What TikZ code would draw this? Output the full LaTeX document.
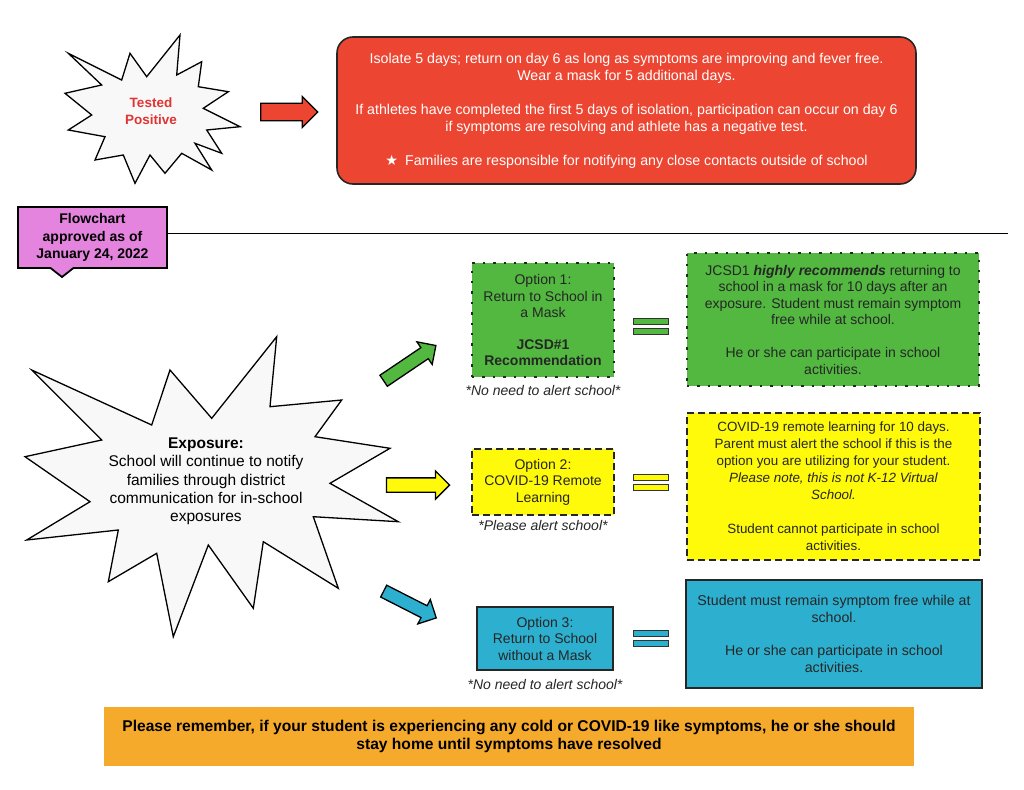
\documentclass[tikz,border=0pt]{standalone}
\usepackage{fontspec}
\setmainfont{Liberation Sans}
\newfontfamily\symbolfont{DejaVu Sans}
\usetikzlibrary{shapes.arrows,positioning,backgrounds}

\definecolor{redbox}{RGB}{236,70,50}
\definecolor{greenbox}{RGB}{82,184,64}
\definecolor{yellowbox}{RGB}{255,250,10}
\definecolor{bluebox}{RGB}{45,176,208}
\definecolor{orangebar}{RGB}{246,170,44}
\definecolor{pinktag}{RGB}{228,132,222}
\definecolor{redtext}{RGB}{224,52,50}
\definecolor{burstfill}{RGB}{248,248,248}

\tikzset{
  base/.style={font=\fontsize{14}{16.5}\selectfont, align=center, inner sep=2pt, outer sep=0pt},
  burst/.style={draw=black, line width=1.3pt, fill=burstfill, line join=miter},
  blockarrow/.style={single arrow, draw=black, line width=1.3pt, inner xsep=0pt, single arrow head extend=7pt},
  option/.style={rectangle, minimum width=142pt, text=black!85, base},
  infobox/.style={rectangle, text=black!85, base},
  dotline/.style={draw=black!85, line width=2.4pt, dash pattern=on 2.4pt off 8pt},
  dashline/.style={draw=black!85, line width=2pt, dash pattern=on 7pt off 4pt},
  solidline/.style={draw=black!85, line width=1.6pt},
  note/.style={font=\fontsize{14}{16}\selectfont\itshape, inner sep=1pt, text=black!85},
  eqbar/.style={rectangle, draw=black!80, line width=1pt, minimum width=35pt, minimum height=6pt, inner sep=0pt}
}

\begin{document}
\begin{tikzpicture}[x=1pt, y=-1pt]
\useasboundingbox (0,0) rectangle (1024,789);

% tested positive row
\draw[burst] (68.3,53.3) -- (121.7,80) -- (130,53.3) -- (146.7,76.7) -- (180,35) -- (176.7,75)
  -- (201.7,61.7) -- (198.3,86.7) -- (228.3,91.7) -- (203.3,108.3) -- (240,126.7) -- (206.7,130)
  -- (221.7,153.3) -- (195,143.3) -- (211.7,170) -- (181.7,153.3) -- (165,173.3) -- (150,155)
  -- (135,183.3) -- (123.3,155) -- (95,160) -- (105,136.7) -- (68.3,130) -- (91.7,115)
  -- (65,93.3) -- (101.7,85) -- cycle;
\node[base, font=\fontsize{13.5}{17}\selectfont\bfseries, text=redtext] (tested) at (151,111) {Tested\\Positive};
\node[blockarrow, fill=redbox, minimum height=57pt, inner ysep=8pt] (arrpos) at (285,112) {};
\node[rectangle, rounded corners=16pt, solidline, fill=redbox, text=white, minimum width=579pt, minimum height=147pt, base, font=\fontsize{14.2}{17}\selectfont] (isolate) at (626.5,110.5)
  {Isolate 5 days; return on day 6 as long as symptoms are improving and fever free.\\
   Wear a mask for 5 additional days.\\[17pt]
   If athletes have completed the first 5 days of isolation, participation can occur on day 6\\
   if symptoms are resolving and athlete has a negative test.\\[17pt]
   {\symbolfont ★}\enspace Families are responsible for notifying any close contacts outside of school};

% approval tag
\node[base, font=\fontsize{14}{17.5}\selectfont\bfseries, minimum width=149pt, minimum height=61pt] (approved) at (92.5,237.5) {Flowchart\\approved as of\\January 24, 2022};
\begin{scope}[on background layer]
  \draw[line width=1.8pt, fill=pinktag] (approved.north west) -- (approved.north east) -- (approved.south east)
    -- ([xshift=-19pt]approved.south) -- ([shift={(-30.5pt,-9pt)}]approved.south) -- ([xshift=-42pt]approved.south)
    -- (approved.south west) -- cycle;
\end{scope}
\coordinate (ruleend) at (1008,233);
\draw[line width=1pt] (approved.east |- ruleend) -- (ruleend);

% exposure
\draw[burst] (31.7,370) -- (101.7,440) -- (25,456.7) -- (90,501.7) -- (26.7,540) -- (118.3,530)
  -- (108.3,581.7) -- (156.7,553.3) -- (173.3,636.7) -- (208.3,545) -- (253.3,608.3) -- (263.3,541.7)
  -- (338.3,588.3) -- (313.3,516.7) -- (398.3,521.7) -- (330,483.3) -- (390,448.3) -- (315,436.7)
  -- (341.7,400) -- (270,406.7) -- (276.7,336.7) -- (211.7,418.3) -- (170,370) -- (151.7,425) -- cycle;
\node[base, font=\fontsize{15.5}{18.3}\selectfont] (exposure) at (206,481.5) {\textbf{Exposure:}\\School will continue to notify\\families through district\\communication for in-school\\exposures};

\node[blockarrow, fill=greenbox, minimum height=63pt, inner ysep=6pt, rotate=34] (arrgreen) at (407,365) {};
\node[blockarrow, fill=yellowbox, minimum height=63pt, inner ysep=6.5pt] (arryellow) at (414.5,485) {};
\node[blockarrow, fill=bluebox, minimum height=59pt, inner ysep=6pt, rotate=-27] (arrblue) at (407,603) {};

% option 1
\node[option, dotline, fill=greenbox, minimum height=114pt] (opt1) at (543,320) {Option 1:\\Return to School in\\a Mask\\[15pt]\textbf{JCSD\#1}\\\textbf{Recommendation}};
\node[note, below=7pt of opt1] (note1) {*No need to alert school*};
\node[eqbar, fill=greenbox] (eq1top) at (650.5,321) {};
\node[eqbar, fill=greenbox, below=3pt of eq1top] (eq1bot) {};
\node[infobox, dotline, fill=greenbox, minimum width=292pt, minimum height=133pt] (mask) at (833,319.5)
  {JCSD1 \textbf{\textit{highly recommends}} returning to\\school in a mask for 10 days after an\\exposure. Student must remain symptom\\free while at school.\\[16.5pt]He or she can participate in school\\activities.};

% option 2
\node[option, dashline, fill=yellowbox, minimum height=66pt] (opt2) at (543,482) {Option 2:\\COVID-19 Remote\\Learning};
\node[note, below=4pt of opt2] (note2) {*Please alert school*};
\node[eqbar, fill=yellowbox] (eq2top) at (650.5,477) {};
\node[eqbar, fill=yellowbox, below=3pt of eq2top] (eq2bot) {};
\node[infobox, dashline, fill=yellowbox, minimum width=293pt, minimum height=147pt, font=\fontsize{13.4}{17}\selectfont] (remote) at (833.5,486.5)
  {COVID-19 remote learning for 10 days.\\Parent must alert the school if this is the\\option you are utilizing for your student.\\\textit{Please note, this is not K-12 Virtual}\\\textit{School.}\\[17pt]Student cannot participate in school\\activities.};

% option 3
\node[option, solidline, fill=bluebox, minimum width=136pt, minimum height=63pt] (opt3) at (545,638.5) {Option 3:\\Return to School\\without a Mask};
\node[note, below=8pt of opt3] (note3) {*No need to alert school*};
\node[eqbar, fill=bluebox] (eq3top) at (650.5,633.5) {};
\node[eqbar, fill=bluebox, below=3pt of eq3top] (eq3bot) {};
\node[infobox, solidline, fill=bluebox, minimum width=296pt, minimum height=108pt, font=\fontsize{14.2}{17}\selectfont] (nomask) at (834,634)
  {Student must remain symptom free while at\\school.\\[16.5pt]He or she can participate in school\\activities.};

% reminder
\node[rectangle, fill=orangebar, minimum width=810pt, minimum height=59pt, base, font=\fontsize{15.6}{18}\selectfont\bfseries] (remember) at (509,736.5)
  {Please remember, if your student is experiencing any cold or COVID-19 like symptoms, he or she should\\stay home until symptoms have resolved};
\end{tikzpicture}
\end{document}
